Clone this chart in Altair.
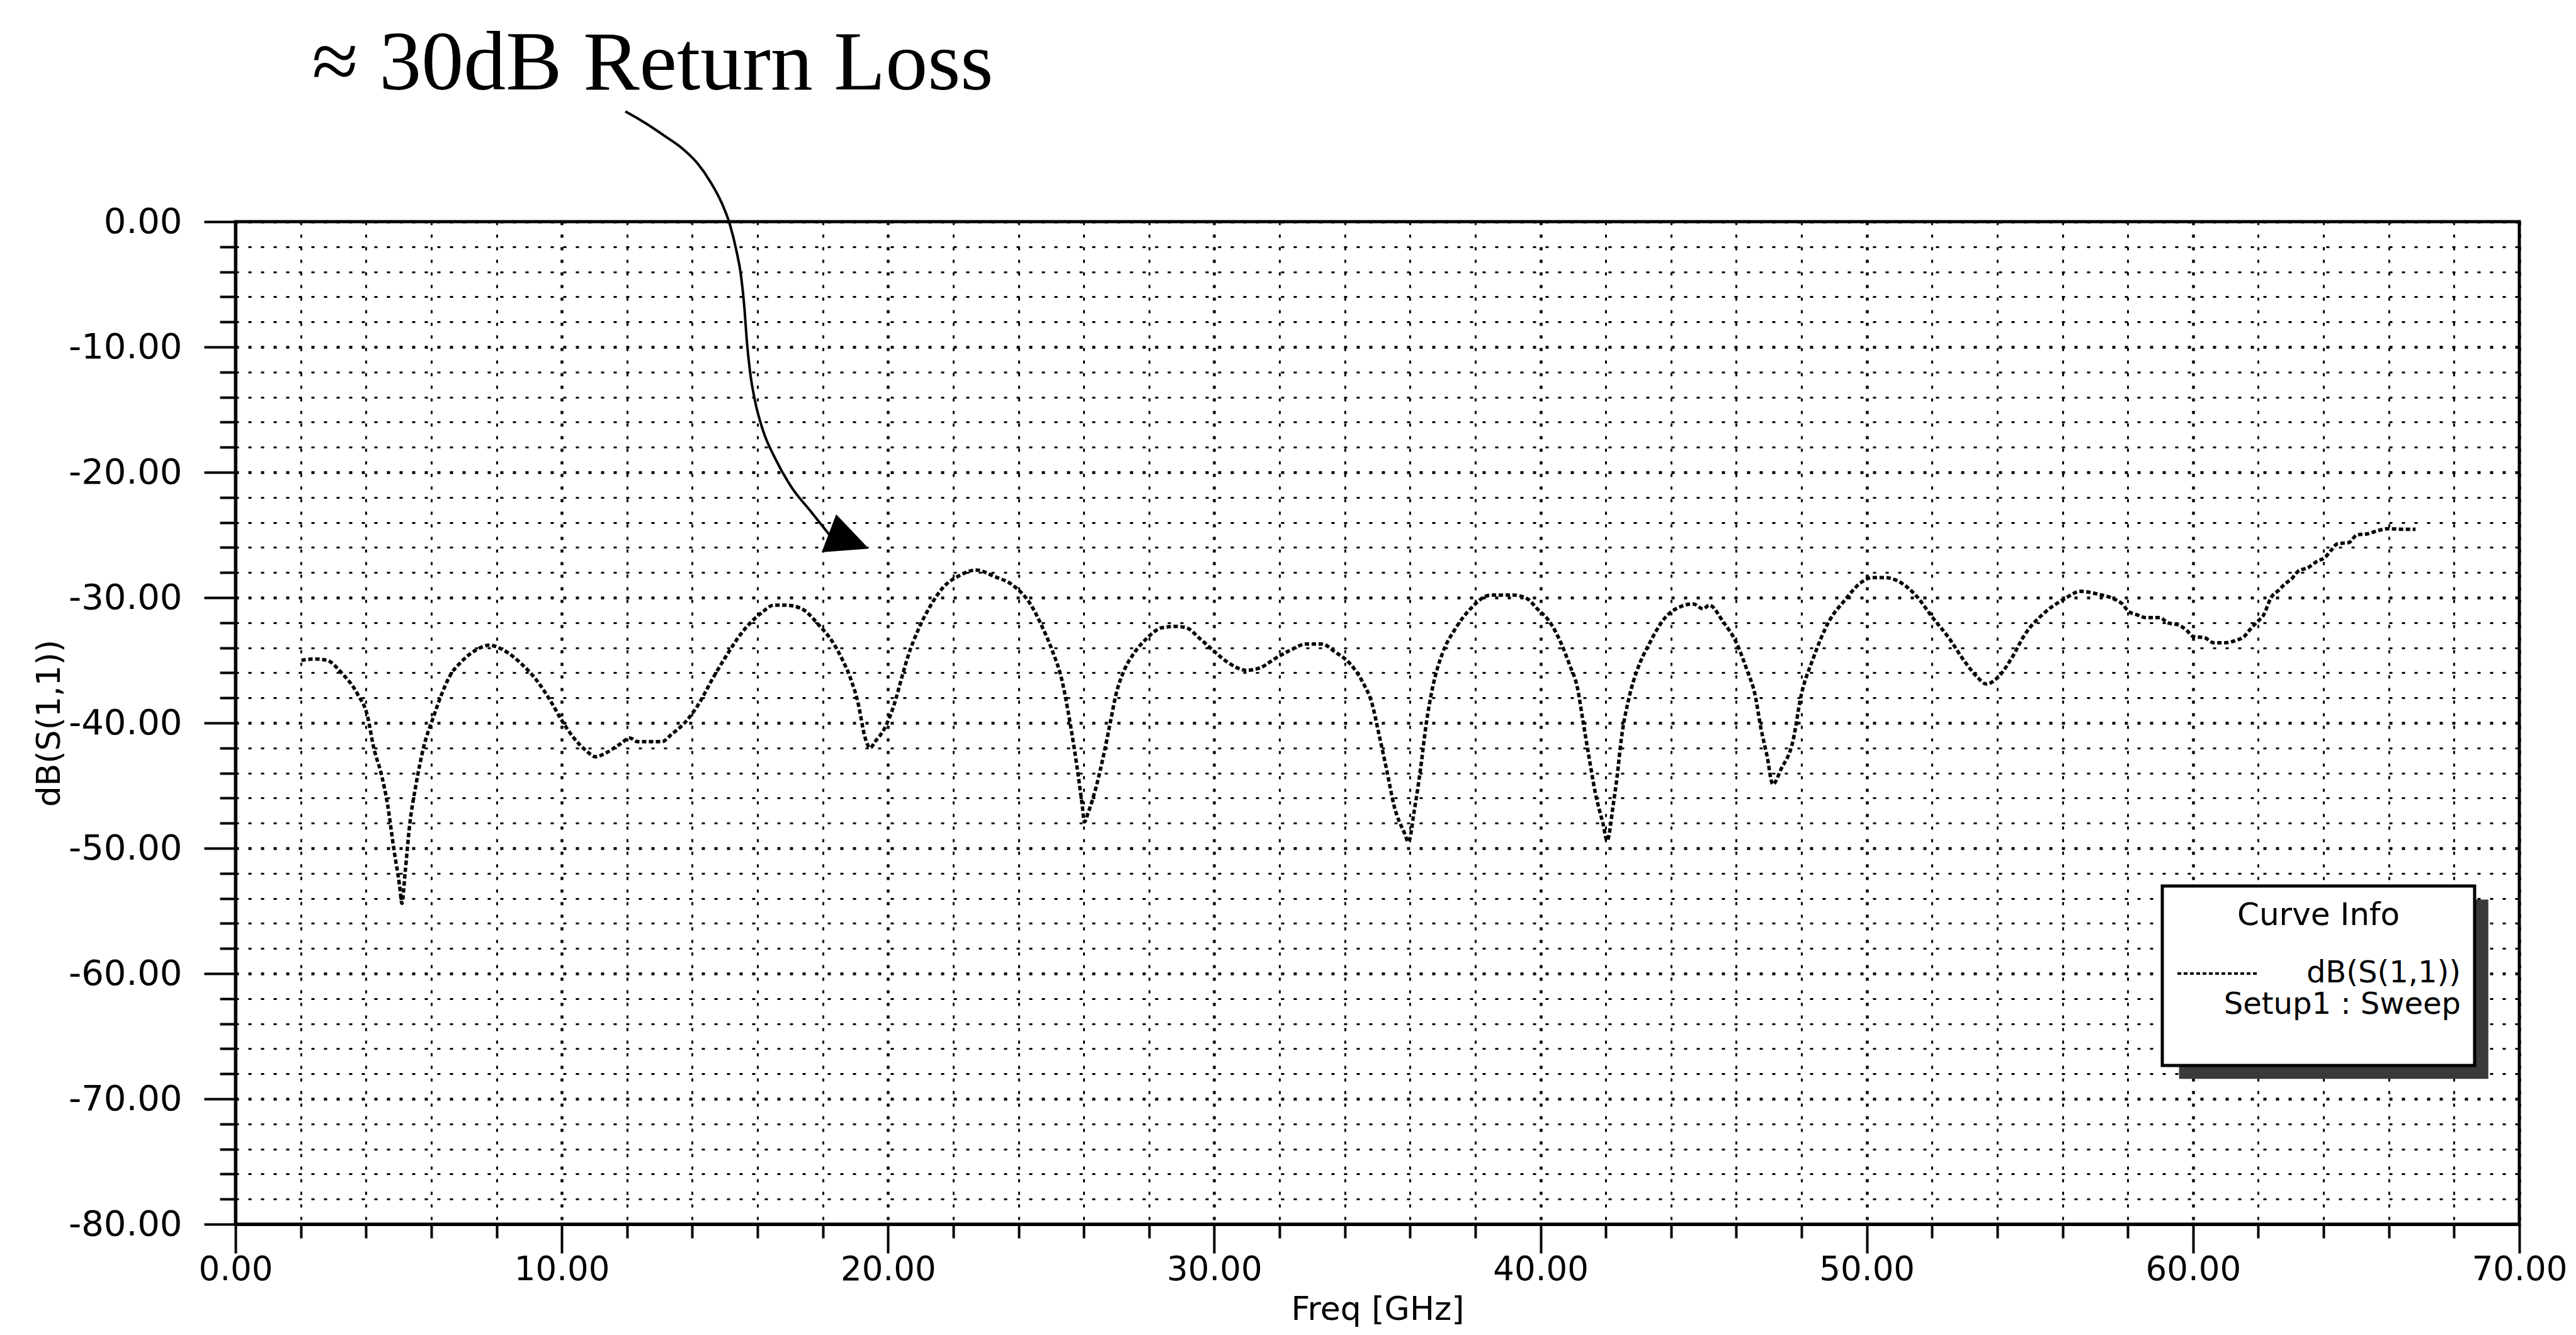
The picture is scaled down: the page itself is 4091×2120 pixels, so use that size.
import altair as alt
import pandas as pd

# ---- S11 curve ----
FREQ = [2.02, 2.45, 2.8, 3.25, 3.74, 4.05, 4.23, 4.48, 4.66, 4.85, 5.03, 5.1, 5.2, 5.34, 5.52, 5.77,
        6.07, 6.32, 6.56, 6.93, 7.36, 7.79, 8.22, 8.77, 9.26, 9.69, 10.0, 10.37, 10.74, 11.04, 11.35,
        11.78, 12.09, 12.33, 12.7, 13.07, 13.37, 13.8, 14.17, 14.66, 15.03, 15.52, 16.13, 16.5, 16.87,
        17.36, 17.85, 18.34, 18.59, 18.83, 19.08, 19.3, 19.45, 19.6, 19.88, 20.18, 20.43, 20.61, 20.92,
        21.29, 21.72, 22.15, 22.7, 23.25, 23.87, 24.36, 24.72, 25.03, 25.34, 25.52, 25.7, 25.83, 25.95,
        26.02, 26.13, 26.38, 26.63, 26.81, 26.99, 27.24, 27.55, 27.91, 28.4, 28.83, 29.14, 29.57, 30.0,
        30.49, 30.98, 31.41, 31.84, 32.33, 32.82, 33.31, 33.68, 34.17, 34.54, 34.85, 35.03, 35.28, 35.52,
        35.83, 35.95, 36.13, 36.32, 36.5, 36.69, 37.0, 37.36, 37.85, 38.47, 39.17, 39.6, 39.9, 40.27,
        40.64, 40.88, 41.13, 41.31, 41.49, 41.68, 41.92, 42.04, 42.23, 42.35, 42.47, 42.72, 42.96, 43.33,
        43.82, 44.31, 44.68, 44.98, 45.17, 45.59, 46.02, 46.33, 46.57, 46.76, 46.94, 47.12, 47.37, 47.74,
        47.98, 48.35, 48.84, 49.33, 49.82, 50.18, 50.55, 51.04, 51.53, 52.02, 52.51, 53.0, 53.37, 53.67,
        54.04, 54.47, 54.83, 55.45, 56.06, 56.55, 57.04, 57.83, 58.0, 58.31, 58.55, 58.98, 59.22, 59.57,
        59.8, 60.0, 60.35, 60.63, 60.98, 61.33, 61.57, 61.76, 61.96, 62.16, 62.39, 62.63, 62.82, 63.02,
        63.22, 63.53, 63.8, 64.04, 64.24, 64.43, 64.78, 65.02, 65.37, 65.6, 66.0, 66.43, 66.82]
DB = [-35.0, -34.9, -35.0, -36.0, -37.7, -39.5, -41.9, -44.2, -46.5, -50.0, -53.0, -54.4, -51.9, -48.1,
      -45.1, -41.9, -39.5, -37.7, -36.3, -35.1, -34.2, -33.8, -34.2, -35.3, -36.7, -38.4, -39.8, -41.2,
      -42.2, -42.7, -42.4, -41.7, -41.2, -41.5, -41.5, -41.5, -40.9, -39.9, -38.6, -36.3, -34.7, -32.8,
      -31.2, -30.6, -30.6, -30.9, -32.1, -33.7, -34.9, -36.3, -38.4, -41.2, -42.0, -41.5, -40.5, -38.6,
      -36.3, -34.7, -32.6, -30.7, -29.1, -28.3, -27.8, -28.3, -29.1, -30.5, -32.3, -34.2, -36.7, -39.1,
      -41.9, -44.2, -46.5, -47.9, -47.2, -45.1, -42.3, -40.0, -37.7, -35.8, -34.4, -33.3, -32.4, -32.3,
      -32.4, -33.3, -34.3, -35.3, -35.8, -35.6, -34.9, -34.2, -33.7, -33.7, -34.3, -35.3, -36.7, -38.6,
      -40.7, -43.7, -46.7, -48.8, -49.5, -47.0, -43.7, -40.0, -37.2, -34.4, -32.6, -30.9, -29.8, -29.8,
      -30.1, -30.9, -31.9, -33.7, -35.3, -37.2, -40.0, -42.8, -45.6, -48.1, -49.4, -46.5, -44.2, -41.4,
      -37.9, -35.8, -33.7, -31.6, -30.7, -30.5, -30.9, -30.6, -31.9, -33.7, -35.8, -37.7, -40.5, -42.6,
      -44.9, -43.7, -41.4, -37.9, -34.9, -31.9, -30.2, -28.8, -28.4, -28.4, -28.8, -29.9, -31.6, -33.2,
      -35.1, -36.3, -36.9, -36.3, -34.7, -33.0, -31.2, -30.1, -29.5, -29.7, -30.5, -31.05, -31.4, -31.6,
      -31.6, -32.0, -32.2, -32.6, -33.1, -33.2, -33.6, -33.6, -33.4, -33.1, -32.5, -31.95, -31.4, -30.0,
      -29.4, -28.9, -28.5, -27.9, -27.6, -27.1, -26.8, -26.2, -25.7, -25.6, -25.0, -24.9, -24.7, -24.5,
      -24.55, -24.55]
SERIES = "dB(S(1,1))"
SETUP = "Setup1 : Sweep"

# ---- axes ----
X_TICKS = list(range(0, 71, 2))
Y_TICKS = list(range(0, -81, -2))
X_DOMAIN = [0, 70]
Y_DOMAIN = [-80, 0]

# ---- annotation (data units) ----
NOTE_TEXT = "\u2248 30dB Return Loss"
NOTE_X = [2.34]
NOTE_Y = [10.55]
ARROW_X = [11.95, 12.58, 13.16, 13.70, 14.17, 14.57, 14.90, 15.15, 15.34, 15.50, 15.60, 15.67,
           15.77, 15.92, 16.17, 16.56, 17.06, 17.60, 18.20]
ARROW_Y = [8.79, 7.84, 6.83, 5.83, 4.62, 3.12, 1.51, -0.20, -2.16, -4.42, -6.93, -9.45,
           -11.96, -14.27, -16.68, -18.99, -21.26, -23.02, -24.97]
HEAD_X = [18.80]
HEAD_Y = [-25.48]
SHADOW_X = [59.57, 69.05]
SHADOW_Y = [-54.1, -68.4]

curve = pd.DataFrame({"freq": FREQ, "db": DB, "series": [SERIES] * len(FREQ)})
arrow = pd.DataFrame({"freq": ARROW_X, "db": ARROW_Y, "order": list(range(len(ARROW_X)))})
head = pd.DataFrame({"freq": HEAD_X, "db": HEAD_Y})
note = pd.DataFrame({"freq": NOTE_X, "db": NOTE_Y, "text": [NOTE_TEXT]})
shadow = pd.DataFrame({"freq": [SHADOW_X[0]], "freq2": [SHADOW_X[1]],
                       "db": [SHADOW_Y[0]], "db2": [SHADOW_Y[1]]})

FONT = "DejaVu Sans"
major10 = "abs(datum.value % 10) < 0.001"

x_axis = alt.Axis(
    values=X_TICKS,
    labelExpr=f"{major10} ? format(datum.value, '.2f') : ''",
    labelFont=FONT, labelFontSize=53, labelColor="black", labelPadding=0,
    labelFlush=False, labelOverlap=False, labelLimit=0, labelBound=False,
    tickSize={"condition": {"test": major10, "value": 46}, "value": 22},
    tickWidth=4, tickColor="black",
    domainColor="black", domainWidth=5,
    grid=True, gridColor="black", gridDash=[5, 15],
    gridWidth={"condition": {"test": major10, "value": 4.5}, "value": 3},
    title="Freq [GHz]", titleFont=FONT, titleFontSize=52, titleFontWeight="normal",
    titleColor="black", titleX=1813.5, titleY=110, titleBaseline="top", titleAlign="center",
)
y_axis = alt.Axis(
    values=Y_TICKS,
    labelExpr=f"{major10} ? ((datum.value < 0 ? '-' : '') + format(abs(datum.value), '.2f')) : ''",
    labelFont=FONT, labelFontSize=56, labelColor="black", labelPadding=35,
    labelFlush=False, labelOverlap=False, labelLimit=0, labelBound=False,
    tickSize={"condition": {"test": major10, "value": 50}, "value": 25},
    tickWidth=4, tickColor="black",
    domainColor="black", domainWidth=5,
    grid=True, gridColor="black", gridDash=[5, 15],
    gridWidth={"condition": {"test": major10, "value": 4.5}, "value": 3},
    title="dB(S(1,1))", titleFont=FONT, titleFontSize=52, titleFontWeight="normal",
    titleColor="black", titleX=-296, titleY=796, titleAngle=270,
    titleAlign="center", titleBaseline="middle",
)

xs = alt.Scale(domain=X_DOMAIN, nice=False, zero=False)
ys = alt.Scale(domain=Y_DOMAIN, nice=False, zero=False)
X = alt.X("freq:Q", scale=xs, axis=x_axis)
Y = alt.Y("db:Q", scale=ys, axis=y_axis)

shadow_layer = alt.Chart(shadow).mark_rect(color="#3a3a3a").encode(
    x=X, x2="freq2:Q", y=Y, y2="db2:Q",
)

curve_layer = alt.Chart(curve).mark_line(
    strokeWidth=5.5, strokeDash=[7, 4], interpolate="monotone"
).encode(
    x=X,
    y=Y,
    color=alt.Color(
        "series:N",
        scale=alt.Scale(domain=[SERIES], range=["black"]),
        legend=alt.Legend(
            orient="none", legendX=3060, legendY=1055,
            title="Curve Info", titleAnchor="middle", titleFont=FONT, titleFontSize=50,
            titleFontWeight="normal", titleColor="black", titlePadding=0, titleLimit=0,
            labelFont=FONT, labelFontSize=48, labelColor="black", labelLimit=0,
            labelOffset=318, labelAlign="right",
            labelExpr=f"[datum.label, '{SETUP}', '']",
            symbolType="stroke", symbolSize=16900, symbolStrokeWidth=4, symbolDash=[6, 4],
            symbolStrokeColor="black",
            padding=22, fillColor="white", strokeColor="black",
        ),
    ),
)

arrow_layer = alt.Chart(arrow).mark_line(
    color="black", strokeWidth=4, interpolate="monotone", clip=False
).encode(x=X, y=Y, order="order:Q")

head_layer = alt.Chart(head).mark_point(
    shape="M-1,-0.95L1,0L-1,0.95Z", filled=True, color="black", opacity=1,
    size=4600, angle=21, clip=False
).encode(x=X, y=Y)

note_layer = alt.Chart(note).mark_text(
    font="Liberation Serif", fontSize=134, align="left", baseline="alphabetic",
    color="black", clip=False
).encode(x=X, y=Y, text="text:N")

chart = alt.layer(
    shadow_layer, curve_layer, arrow_layer, head_layer, note_layer
).properties(
    width=3627, height=1592,
    autosize=alt.AutoSizeParams(type="none"),
    padding={"left": 366, "top": 344, "right": 80, "bottom": 168},
    background="white",
).configure_view(
    stroke="black", strokeWidth=5
).configure_axis(
    labelOverlap=False, labelLimit=0
).configure_legend(
    strokeWidth=5
)

chart.save("out.html", embed_options={"renderer": "svg", "actions": False})
